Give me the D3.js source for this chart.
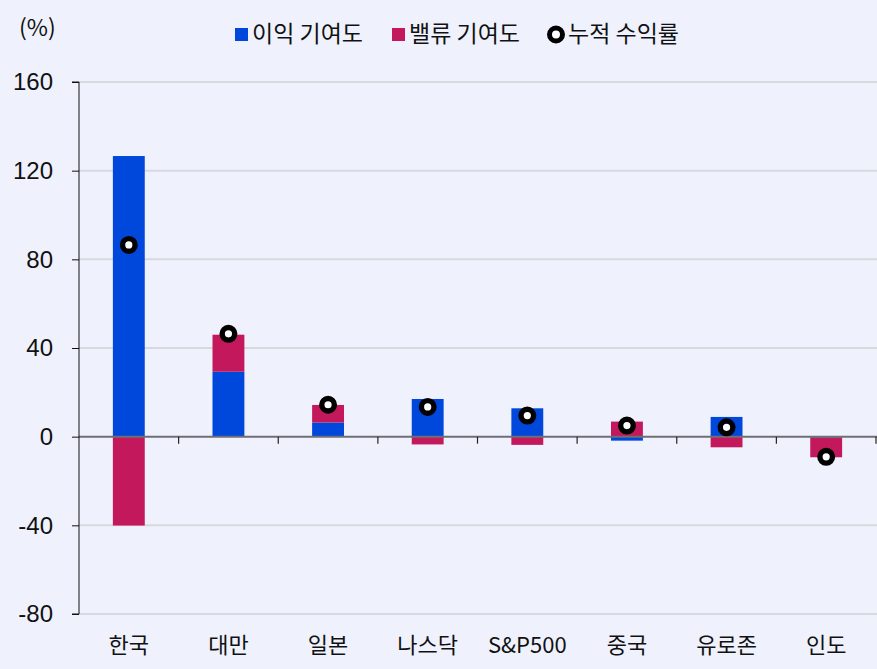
<!DOCTYPE html>
<html>
<head>
<meta charset="utf-8">
<script src="https://cdn.jsdelivr.net/npm/d3@7"></script>
<style>
  html, body { margin: 0; padding: 0; background: #eff2fd; }
  svg { display: block; font-family: "Noto Sans CJK KR", "Noto Sans", sans-serif; }
</style>
</head>
<body>
<div id="chart"></div>
<script>
// data
var categories = ['한국', '대만', '일본', '나스닥', 'S&P500', '중국', '유로존', '인도'];
var earnings = [126.6, 29.3, 6.4, 17.0, 12.8, -1.8, 8.9, -0.4];   // 이익 기여도
var valuation = [-40.1, 16.7, 7.9, -3.5, -3.7, 6.8, -4.8, -8.9];  // 밸류 기여도
var cumReturn = [86.5, 46.4, 14.4, 13.4, 9.5, 5.0, 4.2, -9.1];    // 누적 수익률
var yTicks = [-80, -40, 0, 40, 80, 120, 160];
var legendLabels = ['이익 기여도', '밸류 기여도', '누적 수익률'];

var w = 877, h = 669;
var blue = '#0047dc', red = '#c4185c';

var svg = d3.select('#chart').append('svg')
    .attr('width', w)
    .attr('height', h);

var x = d3.scaleBand()
    .domain(categories)
    .range([79, 876])
    .paddingInner(0.68)
    .paddingOuter(0.34);

var y = d3.scaleLinear()
    .domain([-80, 160])
    .range([614, 82]);

// gridlines
svg.append('g')
    .selectAll('line')
    .data(yTicks.filter(function (d) { return d !== 0; }))
    .enter().append('line')
    .attr('x1', 79).attr('x2', w)
    .attr('y1', function (d) { return y(d); })
    .attr('y2', function (d) { return y(d); })
    .attr('stroke', '#d8d9de')
    .attr('stroke-width', 2);

// stacked bars (diverging)
var rows = categories.map(function (c, i) {
    return { cat: c, earn: earnings[i], val: valuation[i] };
});
var stack = d3.stack()
    .keys(['earn', 'val'])
    .offset(d3.stackOffsetDiverging);
var series = stack(rows);
var colors = { earn: blue, val: red };

svg.append('g')
    .selectAll('g')
    .data(series)
    .enter().append('g')
    .attr('fill', function (d) { return colors[d.key]; })
    .selectAll('rect')
    .data(function (d) { return d; })
    .enter().append('rect')
    .attr('x', function (d) { return x(d.data.cat); })
    .attr('width', x.bandwidth())
    .attr('y', function (d) { return y(Math.max(d[0], d[1])); })
    .attr('height', function (d) { return Math.abs(y(d[0]) - y(d[1])); });

// zero line
svg.append('line')
    .attr('x1', 79).attr('x2', w)
    .attr('y1', y(0)).attr('y2', y(0))
    .attr('stroke', '#6e6e74')
    .attr('stroke-width', 2);

// category ticks on zero line
var step = x.step();
svg.append('g')
    .selectAll('line')
    .data(categories)
    .enter().append('line')
    .attr('x1', function (d) { return x(d) - x.paddingOuter() * step + step; })
    .attr('x2', function (d) { return x(d) - x.paddingOuter() * step + step; })
    .attr('y1', y(0))
    .attr('y2', y(0) + 7)
    .attr('stroke', '#222')
    .attr('stroke-width', 1.2);

// y axis
var yAxis = d3.axisLeft(y)
    .tickValues(yTicks)
    .tickSize(7)
    .tickPadding(19)
    .tickFormat(d3.format('d'));
var ya = svg.append('g')
    .attr('transform', 'translate(79,0)')
    .call(yAxis);
ya.select('.domain').attr('stroke', '#111').attr('d', 'M-7,' + y(160) + 'H0V' + y(-80) + 'H-7');
ya.selectAll('.tick line').attr('stroke', '#111');
ya.selectAll('.tick text')
    .attr('fill', '#111')
    .style('font-size', '24px')
    .style('font-weight', '300')
    .text(function (d) { return d < 0 ? '-' + Math.abs(d) : d; });

// category labels
svg.append('g')
    .selectAll('text')
    .data(categories)
    .enter().append('text')
    .attr('x', function (d) { return x(d) + x.bandwidth() / 2; })
    .attr('y', 653)
    .attr('text-anchor', 'middle')
    .attr('fill', '#111')
    .style('font-size', '22px')
    .text(function (d) { return d; });

// cumulative return dots
svg.append('g')
    .selectAll('circle')
    .data(cumReturn)
    .enter().append('circle')
    .attr('cx', function (d, i) { return x(categories[i]) + x.bandwidth() / 2; })
    .attr('cy', function (d) { return y(d); })
    .attr('r', 6.3)
    .attr('fill', '#fff')
    .attr('stroke', '#000')
    .attr('stroke-width', 5.4);

// unit label
svg.append('text')
    .attr('x', 19).attr('y', 36)
    .attr('fill', '#111')
    .style('font-size', '23px')
    .text('(%)');

// legend
var legend = svg.append('g');
var lx = [235, 392, 547];
legendLabels.forEach(function (t, i) {
    var g = legend.append('g').attr('transform', 'translate(' + lx[i] + ',34.5)');
    if (i < 2) {
        g.append('rect')
            .attr('x', 0).attr('y', -6.5)
            .attr('width', 13).attr('height', 13)
            .attr('fill', i === 0 ? blue : red);
    } else {
        g.append('circle')
            .attr('cx', 9).attr('cy', 0)
            .attr('r', 6.5)
            .attr('fill', '#fff')
            .attr('stroke', '#000')
            .attr('stroke-width', 5);
    }
    g.append('text')
        .attr('x', i < 2 ? 17 : 21)
        .attr('y', 7.5)
        .attr('fill', '#111')
        .style('font-size', '23px')
        .text(t);
});
</script>
</body>
</html>
